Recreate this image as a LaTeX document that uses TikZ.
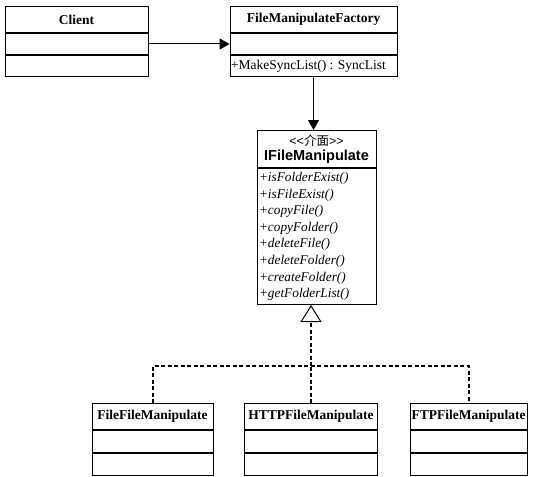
\documentclass[tikz,border=0pt]{standalone}
\usepackage{fontspec}
\setmainfont{Liberation Serif}
\newfontfamily\arialf{Liberation Sans}
\newfontfamily\cjkf{Noto Sans CJK TC}
\usetikzlibrary{arrows.meta}
\begin{document}
\begin{tikzpicture}[x=1pt,y=-1pt, line width=1pt,
  box/.style={draw, inner sep=0pt, anchor=north, fill=white},
  hd/.style={box, minimum height=26pt, font=\bfseries\fontsize{13.5}{16}\selectfont},
  cp/.style={box, minimum height=21pt},
  cpb/.style={box, minimum height=22pt},
  dsh/.style={line width=2pt, dash pattern=on 4pt off 2.5pt},
  assoc/.style={-{Triangle[length=10pt,width=11pt]}},
  real/.style={dsh, -{Triangle[open, length=17pt, width=21pt, line width=1pt]}}]
\fill[white] (0,0) rectangle (540,476);
\useasboundingbox (0,0) rectangle (540,476);
% Client
\node[hd, minimum width=143pt] (client) at (76.5,6) {Client};
\node[cp, minimum width=143pt] (clienta) at (client.south) {};
\node[cp, minimum width=143pt] (cliento) at (clienta.south) {};
% Factory
\node[hd, minimum width=167pt] (fac) at (313.5,6) {FileManipulateFactory};
\node[cp, minimum width=167pt] (faca) at (fac.south) {};
\node[cp, minimum width=167pt] (faco) at (faca.south) {};
\node[anchor=west, inner sep=1pt, font=\fontsize{13.5}{16}\selectfont] (facotxt) at (faco.west) {+MakeSyncList() : SyncList};
% Interface
\node[box, minimum width=119pt, minimum height=37pt, align=center, inner sep=1pt] (ifhead) at (316.5,130)
  {{\arialf\fontsize{12.5}{14}\selectfont {<}{<}{\cjkf 介面}{>}{>}}\\[3pt]{\arialf\bfseries\fontsize{14.5}{15}\selectfont IFileManipulate}};
\node[box, minimum width=119pt, minimum height=136pt, text width=115pt, align=left,
  font=\itshape\fontsize{13.3}{16.6}\selectfont] (ifbody) at (ifhead.south)
  {+isFolderExist()\\+isFileExist()\\+copyFile()\\+copyFolder()\\+deleteFile()\\+deleteFolder()\\+createFolder()\\+getFolderList()};
% Implementations
\node[hd, minimum width=121pt] (file) at (152.5,403) {FileFileManipulate};
\node[cpb, minimum width=121pt] (filea) at (file.south) {};
\node[cpb, minimum width=121pt] (fileo) at (filea.south) {};
\node[hd, minimum width=133pt] (http) at (311,403) {HTTPFileManipulate};
\node[cpb, minimum width=133pt] (httpa) at (http.south) {};
\node[cpb, minimum width=133pt] (httpo) at (httpa.south) {};
\node[hd, minimum width=117pt] (ftp) at (468.5,403) {FTPFileManipulate};
\node[cpb, minimum width=117pt] (ftpa) at (ftp.south) {};
\node[cpb, minimum width=117pt] (ftpo) at (ftpa.south) {};
% Connectors
\draw[assoc] (clienta.east) -- (faca.west);
\draw[assoc] (faco.south) -- (faco.south |- ifhead.north);
\coordinate (j) at (311,366);
\draw[dsh] (file.north) |- (j) -| (ftp.north);
\draw[dsh] (http.north) -- (j);
\draw[real] (j) -- (j |- ifbody.south);
\end{tikzpicture}
\end{document}
